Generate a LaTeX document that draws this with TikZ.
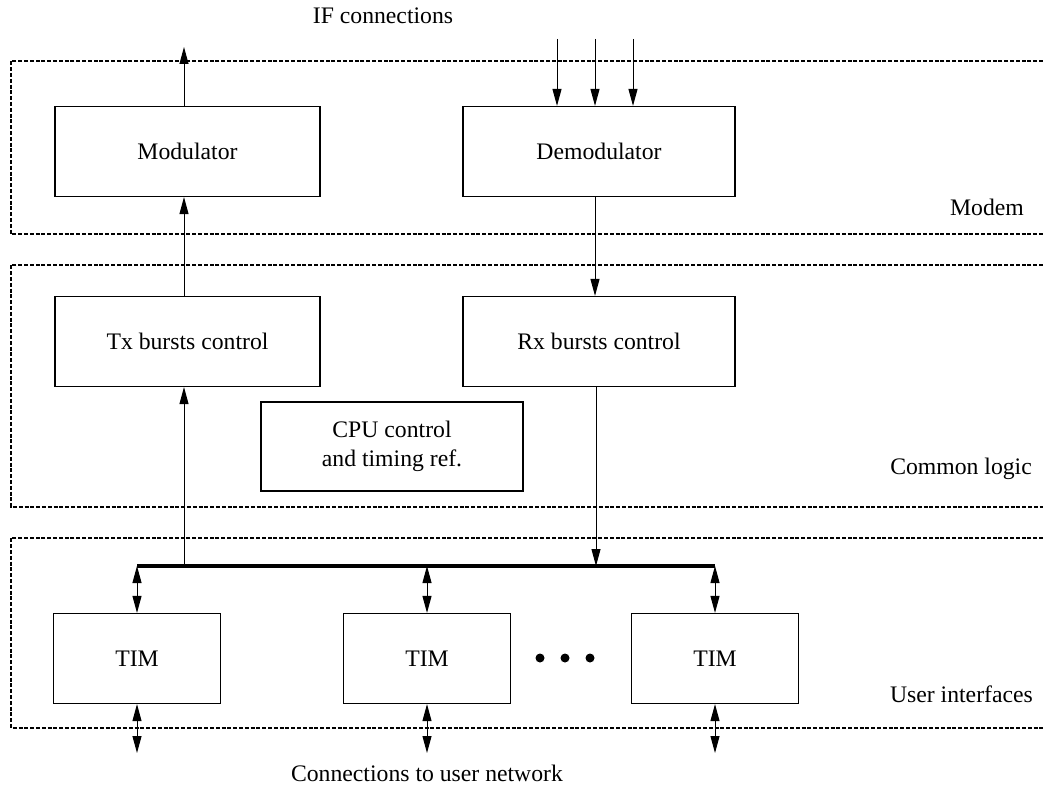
\documentclass[tikz,border=0pt]{standalone}
\usepackage{fontspec}
\setmainfont{Liberation Serif}
\usetikzlibrary{arrows.meta}
\begin{document}
\begin{tikzpicture}[x=1pt,y=-1pt,
  every node/.style={font=\fontsize{23.7}{28}\selectfont, inner sep=0pt},
  blk/.style={draw, line width=1.2pt, minimum height=90pt, align=center},
  panel/.style={line width=1.9pt, dash pattern=on 4pt off 1.8pt},
  conn/.style={line width=1pt, -{Triangle[length=17pt,width=9pt]}},
  bconn/.style={line width=1pt, {Triangle[length=17pt,width=9pt]}-{Triangle[length=17pt,width=9pt]}},
  bus/.style={line width=4pt},
  lbl/.style={anchor=center},
  rlbl/.style={anchor=east}]
\useasboundingbox (0,0) rectangle (1043,791);
% panels
\draw[panel] (1043,61) -- (11,61) -- (11,234) -- (1043,234);
\draw[panel] (1043,265) -- (11,265) -- (11,507) -- (1043,507);
\draw[panel] (1043,538) -- (11,538) -- (11,728) -- (1043,728);
% blocks
\node[blk, minimum width=265pt] (mod) at (187.5,151.5) {Modulator};
\node[blk, minimum width=272pt] (demod) at (599,151.5) {Demodulator};
\node[blk, minimum width=265pt] (tx) at (187.5,341.5) {Tx bursts control};
\node[blk, minimum width=272pt] (rx) at (599,341.5) {Rx bursts control};
\node[blk, minimum width=262pt, minimum height=89pt] (cpu) at (392,446.5) {CPU control\\[1pt]and timing ref.};
\node[blk, minimum width=167pt] (tim1) at (137,658.5) {TIM};
\node[blk, minimum width=167pt] (tim2) at (427,658.5) {TIM};
\node[blk, minimum width=167pt] (tim3) at (715,658.5) {TIM};
% labels
\node[lbl] (ifc) at (383,16) {IF connections};
\node[lbl] (net) at (427,773) {Connections to user network};
\node[rlbl] (modem) at (1024,207) {Modem};
\node[rlbl] (clog) at (1032,469) {Common logic};
\node[rlbl] (uif) at (1033,694) {User interfaces};
% coordinates
\coordinate (txx) at (184,0);
\coordinate (rxx) at (596,0);
\coordinate (ifout) at (184,47);
\coordinate (in1) at (557,39);
\coordinate (in2) at (595,39);
\coordinate (in3) at (633,39);
\coordinate (busy) at (0,566);
\coordinate (nety) at (0,753);
% bus
\draw[bus] (tim1.north |- busy) -- (tim3.north |- busy);
% connectors
\draw[conn] (mod.north -| ifout) -- (ifout);
\draw[conn] (in1) -- (demod.north -| in1);
\draw[conn] (in2) -- (demod.north -| in2);
\draw[conn] (in3) -- (demod.north -| in3);
\draw[conn] (tx.north -| txx) -- (mod.south -| txx);
\draw[conn] (demod.south -| in2) -- (rx.north -| in2);
\draw[conn] (busy -| txx) -- (tx.south -| txx);
\draw[conn] (rx.south -| rxx) -- (busy -| rxx);
\draw[bconn] (tim1.north |- busy) -- (tim1.north);
\draw[bconn] (tim2.north |- busy) -- (tim2.north);
\draw[bconn] (tim3.north |- busy) -- (tim3.north);
\draw[bconn] (tim1.south) -- (tim1.south |- nety);
\draw[bconn] (tim2.south) -- (tim2.south |- nety);
\draw[bconn] (tim3.south) -- (tim3.south |- nety);
% dots
\fill (540,658) circle (4.5pt) (565,658) circle (4.5pt) (590,658) circle (4.5pt);
\end{tikzpicture}
\end{document}
